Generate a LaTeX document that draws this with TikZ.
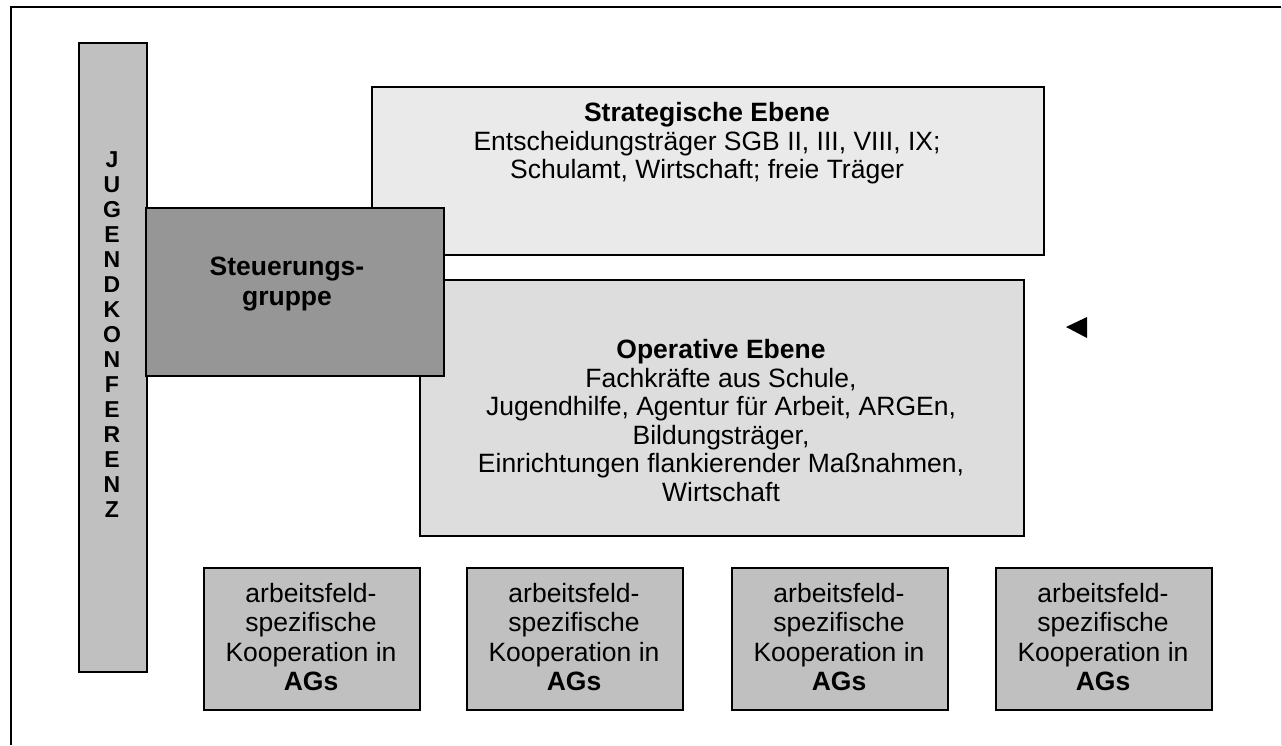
\documentclass[tikz,border=0pt]{standalone}
\usepackage{fontspec}
\setmainfont{Liberation Sans}
\definecolor{barfill}{HTML}{C0C0C0}
\definecolor{stratfill}{HTML}{EAEAEA}
\definecolor{opfill}{HTML}{DDDDDD}
\definecolor{steuerfill}{HTML}{969696}
\definecolor{agfill}{HTML}{C0C0C0}
\definecolor{framegray}{HTML}{D8D8D8}
\begin{document}
\begin{tikzpicture}[x=1pt,y=-1pt,
  boxshape/.style={draw=black,line width=1.6pt,rectangle,inner sep=0pt,anchor=north west},
  txt/.style={align=center,inner sep=0pt,font=\fontsize{26.5}{28.6}\selectfont},
  agtxt/.style={align=center,inner sep=0pt,font=\fontsize{26.5}{29.3}\selectfont},
  vtxt/.style={align=center,inner sep=0pt,font=\fontsize{23}{25}\selectfont\bfseries}]
\useasboundingbox (0,0) rectangle (1282,745);
% outer frame
\coordinate (fbl) at (11,745);
\coordinate (ftl) at (11,7);
\coordinate (ftr) at (1281,7);
\coordinate (fbr) at (1281,745);
\draw[line width=1.6pt,black] (fbl) -- (ftl) -- (ftr);
\draw[line width=0.8pt,framegray] (ftr) -- (fbr);
% Jugendkonferenz bar
\node[boxshape,fill=barfill,minimum width=68pt,minimum height=629pt] (jk) at (78,42) {};
\node[vtxt] (jktxt) at (112,335) {J\\U\\G\\E\\N\\D\\K\\O\\N\\F\\E\\R\\E\\N\\Z};
% strategic
\node[boxshape,fill=stratfill,minimum width=672pt,minimum height=168pt] (strat) at (371,86) {};
\node[txt] (strattxt) at (707,143.5) {\textbf{Strategische Ebene}\\Entscheidungsträger SGB II, III, VIII, IX;\\Schulamt, Wirtschaft; freie Träger};
% operative
\node[boxshape,fill=opfill,minimum width=604pt,minimum height=256pt] (op) at (419,279) {};
\node[txt] (optxt) at (721,420.5) {\textbf{Operative Ebene}\\Fachkräfte aus Schule,\\Jugendhilfe, Agentur für Arbeit, ARGEn,\\Bildungsträger,\\Einrichtungen flankierender Maßnahmen,\\Wirtschaft};
% Steuerungsgruppe
\node[boxshape,fill=steuerfill,minimum width=298pt,minimum height=168pt] (steu) at (145,207) {};
\node[txt,font=\fontsize{26.5}{30}\selectfont\bfseries] (steutxt) at (287,284) {Steuerungs-\\gruppe};
% AG boxes
\foreach \i/\x in {1/203,2/466,3/731,4/995}{
  \node[boxshape,fill=agfill,minimum width=216pt,minimum height=142pt] (ag\i) at (\x,567) {};
  \node[agtxt] (agtxt\i) at (\x+108,637) {arbeitsfeld-\\spezifische\\Kooperation in\\\textbf{AGs}};
}
% arrowhead
\coordinate (tip) at (1066,327);
\coordinate (bu) at (1087,317);
\coordinate (bd) at (1087,338);
\fill[black] (tip) -- (bu) -- (bd) -- cycle;
\end{tikzpicture}
\end{document}
